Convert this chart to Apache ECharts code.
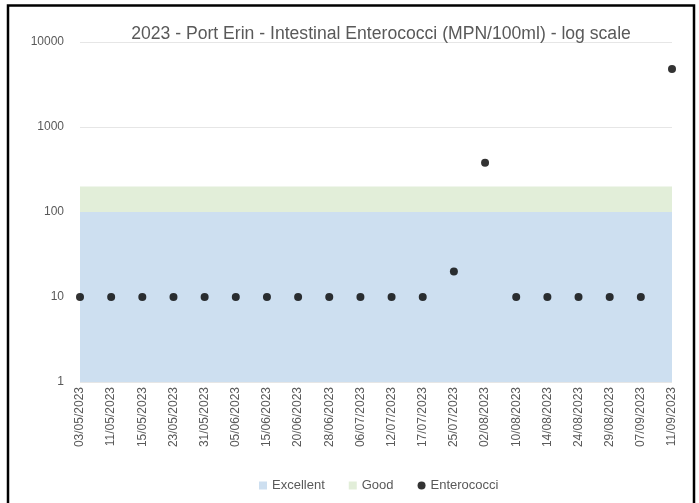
<!DOCTYPE html>
<html>
<head>
<meta charset="utf-8">
<script src="https://cdn.jsdelivr.net/npm/echarts@6/dist/echarts.min.js"></script>
<style>html,body{margin:0;padding:0;background:#fff}#c{width:699px;height:503px}</style>
</head>
<body>
<div id="c"></div>
<script>
const categories = ['03/05/2023','11/05/2023','15/05/2023','23/05/2023','31/05/2023','05/06/2023','15/06/2023','20/06/2023','28/06/2023','06/07/2023','12/07/2023','17/07/2023','25/07/2023','02/08/2023','10/08/2023','14/08/2023','24/08/2023','29/08/2023','07/09/2023','11/09/2023'];
const enterococci = [10,10,10,10,10,10,10,10,10,10,10,10,20,380,10,10,10,10,10,4800];
const excellentLimit = 100;
const goodLimit = 200;
const yTicks = [1,10,100,1000,10000];

const chart = echarts.init(document.getElementById('c'));
const font = '"Liberation Sans", Arial, sans-serif';
chart.setOption({
  animation: false,
  textStyle: {fontFamily: font},
  title: {
    text: '2023 - Port Erin - Intestinal Enterococci (MPN/100ml) - log scale',
    left: 376, top: 20, textAlign: 'center',
    textStyle: {fontSize: 17.6, fontWeight: 'normal', color: '#595959', fontFamily: font}
  },
  grid: {left: 80, right: 27, top: 42, bottom: 121, containLabel: false},
  legend: {
    bottom: 6, left: 254,
    itemWidth: 8, itemHeight: 8, itemGap: 24,
    textStyle: {fontSize: 13, color: '#595959', fontFamily: font},
    data: [
      {name: 'Excellent', icon: 'rect'},
      {name: 'Good', icon: 'rect'},
      {name: 'Enterococci', icon: 'circle'}
    ]
  },
  xAxis: {
    type: 'category', data: categories, boundaryGap: false,
    axisLine: {show: false}, axisTick: {show: false},
    axisLabel: {rotate: 90, color: '#595959', fontSize: 12, margin: 5, interval: 0}
  },
  yAxis: {
    type: 'log', logBase: 10, min: yTicks[0], max: yTicks[yTicks.length - 1],
    axisLine: {show: false}, axisTick: {show: false},
    axisLabel: {color: '#595959', fontSize: 12, margin: 16, formatter: v => String(v)},
    splitLine: {lineStyle: {color: '#e6e6e6', width: 1}}
  },
  graphic: [{
    type: 'rect', silent: true, z: 100,
    shape: {x: 8, y: 5.5, width: 686, height: 520},
    style: {fill: 'none', stroke: '#000', lineWidth: 2.5}
  }],
  series: [
    {
      name: 'Excellent', type: 'line', data: [],
      itemStyle: {color: '#cddff0'}, z: 1,
      markArea: {silent: true, itemStyle: {color: '#cddff0'},
        data: [[{xAxis: categories[0], yAxis: yTicks[0]}, {xAxis: categories[categories.length - 1], yAxis: excellentLimit}]]}
    },
    {
      name: 'Good', type: 'line', data: [],
      itemStyle: {color: '#e2eed9'}, z: 1,
      markArea: {silent: true, itemStyle: {color: '#e2eed9'},
        data: [[{xAxis: categories[0], yAxis: excellentLimit}, {xAxis: categories[categories.length - 1], yAxis: goodLimit}]]}
    },
    {
      name: 'Enterococci', type: 'scatter', data: enterococci,
      symbol: 'circle', symbolSize: 8, z: 5,
      itemStyle: {color: '#000'}
    }
  ]
});
</script>
</body>
</html>
